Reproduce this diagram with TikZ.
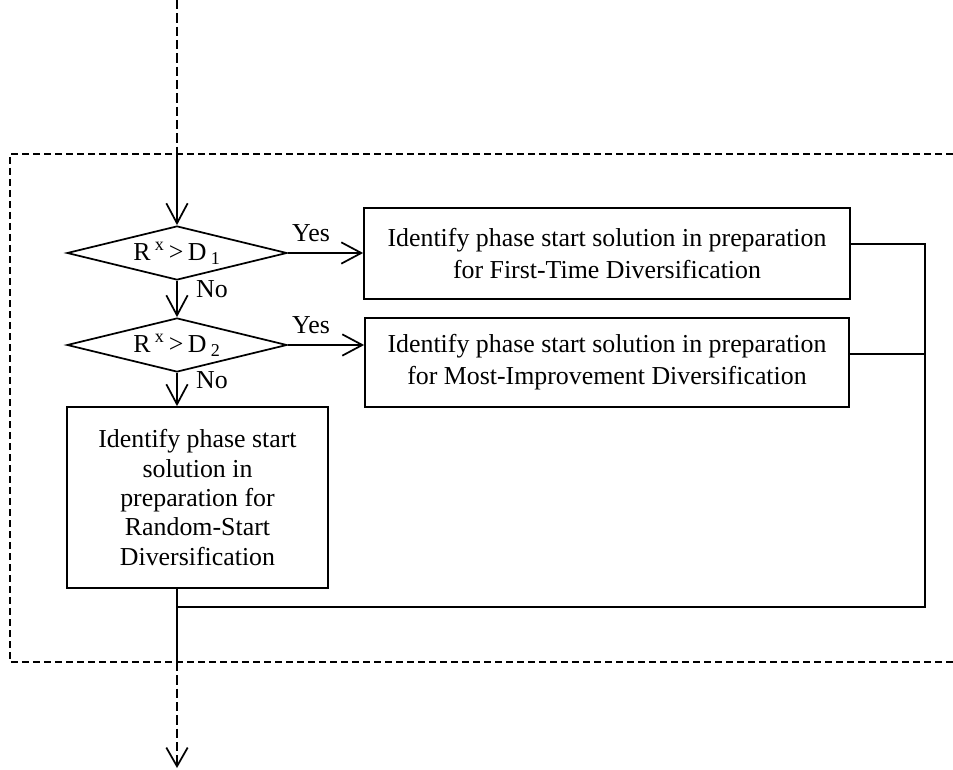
\documentclass[tikz,border=0pt]{standalone}
\usepackage{fontspec}
\setmainfont{Liberation Serif}
\usetikzlibrary{shapes.geometric,arrows.meta,calc}
\begin{document}
\begin{tikzpicture}[x=0.75pt,y=-0.75pt,
  every node/.style={font=\fontsize{19.4}{24}\selectfont},
  line/.style={line width=1.3pt},
  flow/.style={line,-{Straight Barb[length=15pt,width=16pt,line width=1.3pt]}},
  dashborder/.style={line width=1.3pt,dash pattern=on 5.25pt off 3pt},
  dashlead/.style={line width=1.3pt,dash pattern=on 7pt off 3pt},
  decision/.style={draw,line width=1.3pt,shape=diamond,aspect=4.07,inner sep=0pt,
    minimum width=165pt,minimum height=40.5pt},
  stepbox/.style={draw,line width=1.3pt,rectangle,inner sep=0pt,align=center},
  lbl/.style={inner sep=0pt}
]
\useasboundingbox (0,0) rectangle (953,770);

% entry and exit points of the loop region
\coordinate (top) at (177,0);
\coordinate (in) at (177,154);
\coordinate (exit) at (177,662);
\coordinate (bottom) at (177,768);

% dashed region border (open on the right)
\draw[dashborder] (953,154) -- (10,154) -- (10,662) -- (953,662);

% decisions
\node[decision] (d1) at (177,253) {R\,\textsuperscript{x}\,>\,D\,\textsubscript{1}};
\node[decision] (d2) at (177,345) {R\,\textsuperscript{x}\,>\,D\,\textsubscript{2}};

% actions
\node[stepbox,minimum width=364.5pt,minimum height=68.25pt] (b1) at (607,253.5)
  {Identify phase start solution in preparation\\for First-Time Diversification};
\node[stepbox,minimum width=363pt,minimum height=66.75pt] (b2) at (607,362.5)
  {Identify phase start solution in preparation\\for Most-Improvement Diversification};
\node[stepbox,minimum width=195.75pt,minimum height=135.75pt,
  font=\fontsize{19.4}{22}\selectfont] (b3) at (197.5,497.5)
  {Identify phase start\\solution in\\preparation for\\Random-Start\\Diversification};

% incoming flow
\draw[dashlead] (top) -- (in);
\draw[flow] (in) -- (d1.north);

% decision branches
\draw[flow] (d1.east) -- (d1.east -| b1.west);
\draw[flow] (d2.east) -- (d2.east -| b2.west);
\draw[flow] (d1.south) -- (d2.north);
\draw[flow] (d2.south) -- (d2.south |- b3.north);

% labels
\node[lbl] (yes1) at (311,233) {Yes};
\node[lbl] (yes2) at (311,325) {Yes};
\node[lbl] (no1) at (212,289) {No};
\node[lbl] (no2) at (212,380) {No};

% merge of the three branches
\coordinate (r1) at (925,244);
\coordinate (r2) at (925,354);
\coordinate (r3) at (925,607);
\coordinate (m) at (177,607);
\draw[line] (b1.east |- r1) -- (r1) -- (r3) -- (m);
\draw[line] (b2.east |- r2) -- (r2);
\draw[line] (b3.south -| exit) -- (exit);

% outgoing flow
\draw[dashlead,-{Straight Barb[length=14pt,width=16pt,line width=1.3pt]}] (exit) -- (bottom);
\end{tikzpicture}
\end{document}
